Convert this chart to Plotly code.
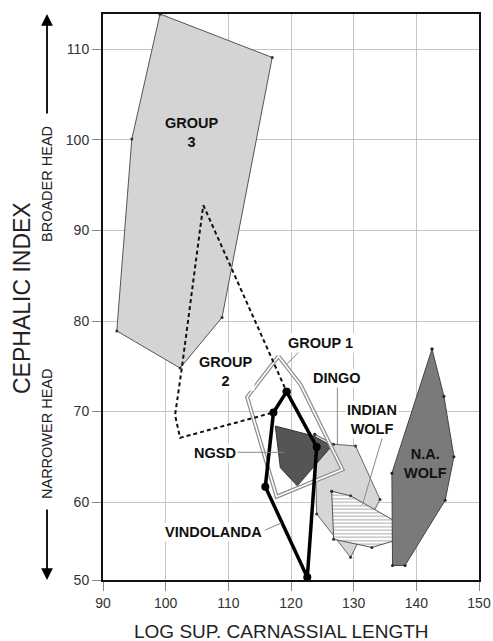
import plotly.graph_objects as go

# ---- data ----
group3_x = [99.1, 117.0, 109.0, 102.3, 92.2, 94.6]
group3_y = [113.9, 109.1, 80.4, 74.8, 78.9, 100.1]

group2_x = [106.0, 119.3, 117.2, 102.3, 101.5, 102.6]
group2_y = [92.8, 72.2, 69.9, 67.1, 69.6, 74.9]

group1_x = [118.0, 121.5, 128.2, 117.7, 113.0]
group1_y = [76.1, 73.0, 63.6, 60.6, 71.6]

ngsd_x = [117.5, 123.6, 126.5, 121.0, 118.3]
ngsd_y = [68.4, 67.3, 66.2, 61.8, 63.8]

dingo_x = [123.8, 126.8, 130.3, 134.2, 129.5, 124.1]
dingo_y = [67.5, 66.4, 66.2, 60.3, 53.9, 58.7]

indian_x = [126.5, 129.5, 136.6, 138.3, 132.9, 126.8]
indian_y = [61.2, 60.7, 57.9, 56.1, 55.0, 55.9]

nawolf_x = [142.5, 144.4, 146.0, 144.6, 138.2, 136.2, 136.1]
nawolf_y = [76.9, 71.7, 65.0, 60.2, 53.0, 53.0, 63.2]

vindo_x = [119.3, 124.1, 122.6, 115.9, 117.2]
vindo_y = [72.2, 66.1, 51.7, 61.7, 69.9]

x_ticks = [90, 100, 110, 120, 130, 140, 150]
y_tick_vals = [51.4, 60, 70, 80, 90, 100, 110]
y_tick_text = ["50", "60", "70", "80", "90", "100", "110"]

# group labels: text, x, y, white background?
labels = [
    ("GROUP<br>3", 104.2, 100.8, False),
    ("GROUP<br>2", 109.7, 74.4, True),
    ("GROUP 1", 124.7, 77.6, True),
    ("DINGO", 127.4, 73.7, True),
    ("INDIAN<br>WOLF", 133.0, 69.1, True),
    ("N.A.<br>WOLF", 141.5, 64.3, False),
    ("NGSD", 107.8, 65.4, True),
    ("VINDOLANDA", 107.6, 56.7, True),
]
# leader lines (x0, y0, x1, y1)
leaders = [
    (121.4, 76.7, 119.3, 75.2),
    (127.4, 72.7, 127.4, 66.4),
    (134.6, 67.2, 131.4, 59.7),
    (111.4, 65.5, 118.8, 65.5),
    (115.8, 56.9, 118.5, 57.7),
]


def closed(a):
    return list(a) + [a[0]]


fig = go.Figure()

# Group 3
fig.add_trace(go.Scatter(x=closed(group3_x), y=closed(group3_y), mode="lines+markers",
                         fill="toself", fillcolor="#d4d4d4",
                         line=dict(color="#555555", width=1),
                         marker=dict(size=3, color="#333333")))
# Dingo
fig.add_trace(go.Scatter(x=closed(dingo_x), y=closed(dingo_y), mode="lines+markers",
                         fill="toself", fillcolor="#d6d6d6",
                         line=dict(color="#666666", width=1),
                         marker=dict(size=3, color="#333333")))
# Indian wolf (hatched)
fig.add_trace(go.Scatter(x=closed(indian_x), y=closed(indian_y), mode="lines+markers",
                         fill="toself", fillcolor="white",
                         fillpattern=dict(shape="-", fgcolor="#808080", bgcolor="white",
                                          size=3.5, solidity=0.4),
                         line=dict(color="#555555", width=1),
                         marker=dict(size=3, color="#333333")))
# NGSD
fig.add_trace(go.Scatter(x=closed(ngsd_x), y=closed(ngsd_y), mode="lines",
                         fill="toself", fillcolor="#555555",
                         line=dict(color="#333333", width=1)))
# N.A. wolf
fig.add_trace(go.Scatter(x=closed(nawolf_x), y=closed(nawolf_y), mode="lines+markers",
                         fill="toself", fillcolor="#7a7a7a",
                         line=dict(color="#444444", width=1),
                         marker=dict(size=3, color="#222222")))
# Group 1 (double outline)
fig.add_trace(go.Scatter(x=closed(group1_x), y=closed(group1_y), mode="lines",
                         line=dict(color="#8c8c8c", width=4)))
fig.add_trace(go.Scatter(x=closed(group1_x), y=closed(group1_y), mode="lines",
                         line=dict(color="white", width=1.6)))
# Group 2 (dashed)
fig.add_trace(go.Scatter(x=closed(group2_x), y=closed(group2_y), mode="lines",
                         line=dict(color="#111111", width=2, dash="4px,3px")))
# Vindolanda
fig.add_trace(go.Scatter(x=closed(vindo_x), y=closed(vindo_y), mode="lines+markers",
                         line=dict(color="black", width=3.5),
                         marker=dict(size=8, color="black")))

shapes = []
for (x0, y0, x1, y1) in leaders:
    shapes.append(dict(type="line", xref="x", yref="y", x0=x0, y0=y0, x1=x1, y1=y1,
                       line=dict(color="#888888", width=1)))

annotations = []
for (txt, lx, ly, bg) in labels:
    annotations.append(dict(x=lx, y=ly, xref="x", yref="y", text=f"<b>{txt}</b>",
                            showarrow=False, align="center",
                            font=dict(family="Liberation Sans, Arial", size=14.5, color="#111111"),
                            bgcolor="white" if bg else "rgba(0,0,0,0)", borderpad=1))

# page pixel -> paper coordinates (plot area spans x 103..479, y 14..580 on the page)
PW, PH = 376.0, 566.0
def px_x(p):
    return (p - 103) / PW
def px_y(p):
    return (580 - p) / PH

# axis titles
annotations.append(dict(x=px_x(281), y=px_y(631), xref="paper", yref="paper",
                        text="LOG SUP. CARNASSIAL LENGTH", showarrow=False,
                        font=dict(family="Liberation Sans, Arial", size=19, color="#222222"),
                        xanchor="center", yanchor="middle"))
annotations.append(dict(x=px_x(22), y=px_y(298), xref="paper", yref="paper",
                        text="CEPHALIC INDEX", showarrow=False, textangle=-90,
                        font=dict(family="Liberation Sans, Arial", size=23, color="#222222"),
                        xanchor="center", yanchor="middle"))
annotations.append(dict(x=px_x(47), y=px_y(184), xref="paper", yref="paper",
                        text="BROADER HEAD", showarrow=False, textangle=-90,
                        font=dict(family="Liberation Sans, Arial", size=14.5, color="#222222"),
                        xanchor="center", yanchor="middle"))
annotations.append(dict(x=px_x(47), y=px_y(434), xref="paper", yref="paper",
                        text="NARROWER HEAD", showarrow=False, textangle=-90,
                        font=dict(family="Liberation Sans, Arial", size=14.5, color="#222222"),
                        xanchor="center", yanchor="middle"))
# arrows
annotations.append(dict(x=px_x(47), y=px_y(14), xref="paper", yref="paper",
                        ax=0, ay=101, text="", showarrow=True, arrowhead=2,
                        arrowsize=1.3, arrowwidth=1.8, arrowcolor="black"))
annotations.append(dict(x=px_x(47), y=px_y(580), xref="paper", yref="paper",
                        ax=0, ay=-72, text="", showarrow=True, arrowhead=2,
                        arrowsize=1.3, arrowwidth=1.8, arrowcolor="black"))

fig.update_layout(
    width=493, height=641,
    margin=dict(l=103, r=14, t=14, b=61),
    paper_bgcolor="white", plot_bgcolor="white",
    showlegend=False,
    shapes=shapes, annotations=annotations,
    font=dict(family="Liberation Sans, Arial", color="#333333"),
)
fig.update_xaxes(range=[90, 150], tickvals=x_ticks, showgrid=True, gridcolor="#c4c4c4",
                 gridwidth=1, zeroline=False, showline=True, linecolor="#111111",
                 linewidth=2, mirror=True, ticks="outside", ticklen=9, tickcolor="#888888",
                 tickfont=dict(size=14, color="#333333"), automargin=False)
fig.update_yaxes(range=[51.4, 113.9], tickvals=y_tick_vals, ticktext=y_tick_text,
                 showgrid=True, gridcolor="#c4c4c4", gridwidth=1, zeroline=False,
                 showline=True, linecolor="#111111", linewidth=2, mirror=True,
                 ticks="outside", ticklen=9, tickcolor="#888888",
                 tickfont=dict(size=14, color="#333333"), automargin=False)

# remove the browser's default page margin so the figure sits at the window's corner
fig.write_html("out.html",
               config={"displayModeBar": False},
               post_script="document.body.style.margin='0';document.body.style.overflow='hidden';")
